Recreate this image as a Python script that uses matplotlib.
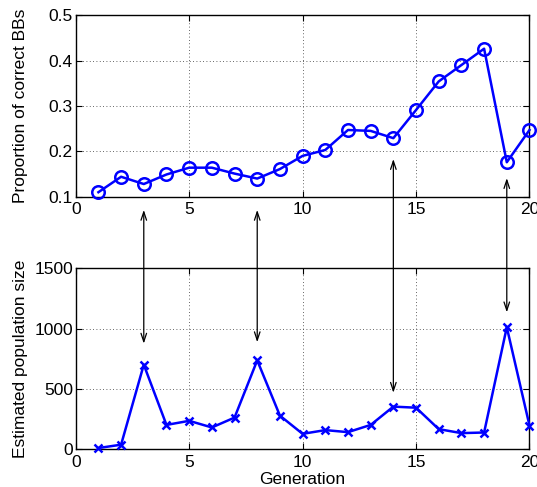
import matplotlib
matplotlib.use("Agg")
import matplotlib.pyplot as plt
from matplotlib.patches import ConnectionPatch

plt.rcParams['font.family'] = ['Liberation Sans', 'DejaVu Sans']
plt.rcParams['font.size'] = 12.5

# Datos
generacion = list(range(1, 21))
prop_bbs = [0.110, 0.144, 0.128, 0.149, 0.164, 0.164, 0.151, 0.140, 0.161, 0.190,
            0.203, 0.247, 0.245, 0.229, 0.291, 0.354, 0.390, 0.426, 0.176, 0.247]
pob_estimada = [8, 36, 700, 200, 234, 179, 261, 736, 277, 126,
                157, 140, 200, 352, 343, 165, 132, 137, 1011, 195]

# Flechas entre paneles: (generacion, extremo arriba, extremo abajo)
flechas_x = [3, 8, 14, 19]
flechas_arriba = [0.071, 0.071, 0.183, 0.141]
flechas_abajo = [875, 887, 467, 1135]

fig = plt.figure(figsize=(5.37, 4.87), dpi=100)
ax1 = fig.add_axes([0.141, 0.596, 0.845, 0.373])
ax2 = fig.add_axes([0.141, 0.078, 0.845, 0.371])

ax1.plot(generacion, prop_bbs, '-o', color='blue', lw=1.8, ms=9,
         mfc='none', mew=1.8, clip_on=False, zorder=3)
ax1.set_xlim(0, 20)
ax1.set_ylim(0.1, 0.5)
ax1.set_xticks([0, 5, 10, 15, 20])
ax1.set_yticks([0.1, 0.2, 0.3, 0.4, 0.5])
ax1.set_ylabel('Proportion of correct BBs')

ax2.plot(generacion, pob_estimada, '-x', color='blue', lw=1.8, ms=6,
         mew=1.8, clip_on=False, zorder=3)
ax2.set_xlim(0, 20)
ax2.set_ylim(0, 1500)
ax2.set_xticks([0, 5, 10, 15, 20])
ax2.set_yticks([0, 500, 1000, 1500])
ax2.set_ylabel('Estimated population size')
ax2.set_xlabel('Generation', labelpad=2)

for ax in (ax1, ax2):
    ax.grid(True, linestyle=(0, (1, 3)), color='0.2', lw=0.6)
    ax.tick_params(direction='in', top=True, right=True, length=4, pad=2)
    ax.tick_params(axis='x', pad=4)
    ax.yaxis.set_label_coords(-0.105, 0.5)
    for s in ax.spines.values():
        s.set_linewidth(1.0)

for x, ya, yb in zip(flechas_x, flechas_arriba, flechas_abajo):
    con = ConnectionPatch(xyA=(x, ya), coordsA=ax1.transData,
                          xyB=(x, yb), coordsB=ax2.transData,
                          arrowstyle='<->,head_length=0.6,head_width=0.2',
                          mutation_scale=10, lw=0.9,
                          color='black', shrinkA=0, shrinkB=0, zorder=5)
    fig.add_artist(con)

fig.savefig('out.png', dpi=100)
plt.close(fig)
